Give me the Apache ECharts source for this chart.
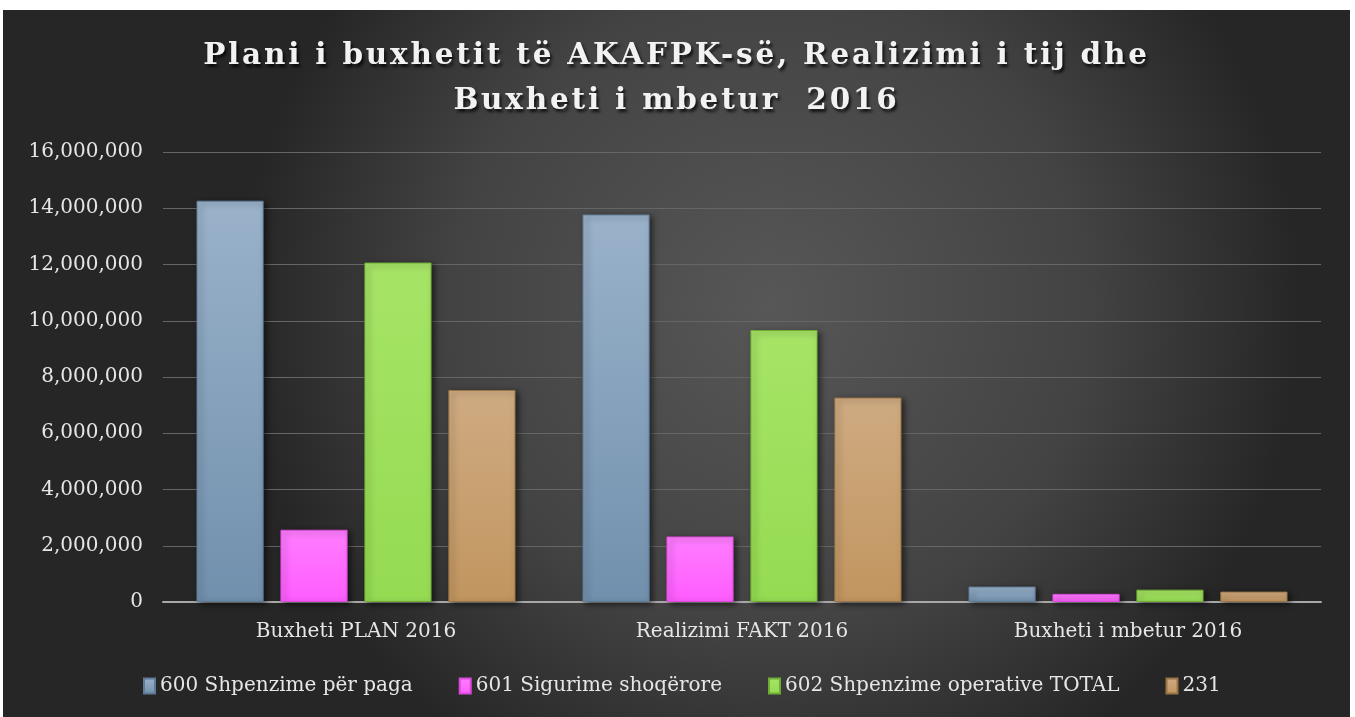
<!DOCTYPE html>
<html lang="sq">
<head>
<meta charset="UTF-8">
<title>Plani i buxhetit 2016</title>
<script src="https://cdn.jsdelivr.net/npm/echarts@6.0.0/dist/echarts.min.js"></script>
<style>
  html, body { margin: 0; padding: 0; background: #fff; }
  #wrap { position: absolute; left: 3px; top: 10px; width: 1347px; height: 707px; }
  #chart { width: 100%; height: 100%; }
  #title {
    position: absolute; left: 0; right: 0; top: 21px;
    text-align: center; color: #f2f2f2;
    font-family: "DejaVu Serif", serif; font-weight: bold;
    font-size: 29.5px; line-height: 45px; letter-spacing: 2.8px;
    text-shadow: 2px 3px 3px rgba(0,0,0,0.75);
    pointer-events: none;
  }
</style>
</head>
<body>
<div id="wrap">
  <div id="chart"></div>
  <div id="title">Plani i buxhetit të AKAFPK-së, Realizimi i tij dhe<br>Buxheti i mbetur&nbsp; 2016</div>
</div>
<script>
// kategoritë dhe vlerat (lexuar nga grafiku)
var categories = ['Buxheti PLAN 2016', 'Realizimi FAKT 2016', 'Buxheti i mbetur 2016'];
var seriesNames = ['600 Shpenzime për paga', '601 Sigurime shoqërore', '602 Shpenzime operative TOTAL', '231'];
var paga = [14270000, 13780000, 550000];
var sigurime = [2570000, 2330000, 290000];
var operative = [12070000, 9670000, 440000];
var kod231 = [7540000, 7270000, 370000];
var yTicks = [0, 2000000, 4000000, 6000000, 8000000, 10000000, 12000000, 14000000, 16000000];

var colors = [
  ['#9ab2ca', '#7190ad', '#5e7a96'],
  ['#ff7dff', '#ff5cff', '#d94bd9'],
  ['#a6e466', '#95db52', '#6fae35'],
  ['#cfab82', '#c1955f', '#9a7446']
];
var values = [paga, sigurime, operative, kod231];

function grad(c) {
  return new echarts.graphic.LinearGradient(0, 0, 0, 1, [
    { offset: 0, color: c[0] },
    { offset: 1, color: c[1] }
  ]);
}

var series = seriesNames.map(function (name, i) {
  return {
    name: name,
    type: 'bar',
    data: values[i],
    barWidth: '17.4%',
    barGap: '25%',
    itemStyle: {
      color: grad(colors[i]),
      borderColor: colors[i][2],
      borderWidth: 1,
      shadowColor: 'rgba(0,0,0,0.55)',
      shadowBlur: 6,
      shadowOffsetX: 3,
      shadowOffsetY: 2
    }
  };
});

var chart = echarts.init(document.getElementById('chart'));
chart.setOption({
  animation: false,
  backgroundColor: new echarts.graphic.RadialGradient(0.57, 0.42, 0.75, [
    { offset: 0, color: '#575757' },
    { offset: 0.6, color: '#434343' },
    { offset: 1, color: '#262626' }
  ]),
  grid: { left: 160, right: 29, top: 142, bottom: 115 },
  legend: {
    left: 135,
    top: 661,
    itemWidth: 11,
    itemHeight: 15,
    itemGap: 46,
    icon: 'rect',
    textStyle: { color: '#e6e6e6', fontFamily: 'DejaVu Serif', fontSize: 20 },
    data: seriesNames
  },
  xAxis: {
    type: 'category',
    data: categories,
    axisLine: { lineStyle: { color: '#a8a8a8', width: 2 } },
    axisTick: { show: false },
    axisLabel: { color: '#e6e6e6', fontFamily: 'DejaVu Serif', fontSize: 20, margin: 20 }
  },
  yAxis: {
    type: 'value',
    min: yTicks[0],
    max: yTicks[yTicks.length - 1],
    interval: 2000000,
    axisLine: { show: false },
    axisTick: { show: false },
    splitLine: { lineStyle: { color: '#666666', width: 1 } },
    axisLabel: {
      color: '#e6e6e6', fontFamily: 'DejaVu Serif', fontSize: 20, margin: 20,
      formatter: function (v) { return v.toLocaleString('en-US'); }
    }
  },
  series: series
});
</script>
</body>
</html>
